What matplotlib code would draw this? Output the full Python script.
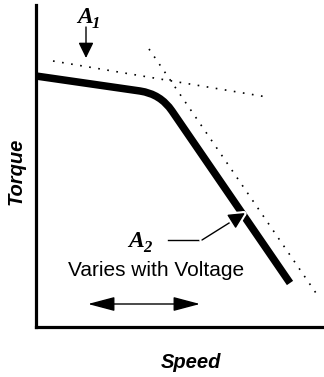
import matplotlib
matplotlib.use("Agg")
import matplotlib.pyplot as plt
from matplotlib.path import Path
from matplotlib.patches import PathPatch
import matplotlib.patheffects as pe

# Torque-speed characteristic (arbitrary units: speed to the right, torque up)
curve_speed = [0, 104, 124.5, 136, 254]
curve_torque = [251, 236, 233, 216, 44]
curve_codes = [Path.MOVETO, Path.LINETO, Path.CURVE3, Path.CURVE3, Path.LINETO]

# Asymptotes A1 (low-speed) and A2 (high-speed)
a1_speed = [17, 231]
a1_torque = [266, 230]
a2_speed = [113, 282]
a2_torque = [278, 31]

fig = plt.figure(figsize=(3.24, 3.77), dpi=100)
ax = fig.add_axes([36 / 324, 50 / 377, 288 / 324, 322 / 377])
ax.set_xlim(0, 288)
ax.set_ylim(0, 322)
ax.set_xticks([])
ax.set_yticks([])
for side in ("top", "right"):
    ax.spines[side].set_visible(False)
for side in ("left", "bottom"):
    ax.spines[side].set_linewidth(2.3)

# dotted asymptotes
dot = (0, (1, 4.5))
ax.plot(a1_speed, a1_torque, color="black", lw=1.2, linestyle=dot)
ax.plot(a2_speed, a2_torque, color="black", lw=1.2, linestyle=dot)

# characteristic curve with rounded knee
path = Path(list(zip(curve_speed, curve_torque)), curve_codes)
ax.add_patch(PathPatch(path, facecolor="none", edgecolor="black", lw=5.4,
                       capstyle="butt", joinstyle="round"))

serif = dict(family="Liberation Serif", weight="bold", style="italic")

# A1 label and arrow
ax.text(49, 304, "A", fontsize=17, ha="center", va="baseline", **serif)
ax.text(60, 299, "1", fontsize=12, ha="center", va="baseline", **serif)
ax.annotate("", xy=(50, 269), xytext=(50, 300),
            arrowprops=dict(arrowstyle="-|>,head_length=0.47,head_width=0.23",
                            mutation_scale=20, lw=1.0, color="black",
                            shrinkA=0, shrinkB=0))

# A2 label and leader arrow
ax.text(100, 80, "A", fontsize=17, ha="center", va="baseline", **serif)
ax.text(111, 75, "2", fontsize=12, ha="center", va="baseline", **serif)
ax.plot([132, 166], [87, 87], color="black", lw=1.0)
ax.annotate("", xy=(209, 114), xytext=(166, 87),
            arrowprops=dict(arrowstyle="-|>,head_length=0.5,head_width=0.25",
                            mutation_scale=20, lw=1.0, color="black",
                            shrinkA=0, shrinkB=0,
                            path_effects=[pe.withStroke(linewidth=4, foreground="white")]))

# voltage dependence annotation
ax.text(120, 56, "Varies with Voltage", fontsize=15, ha="center", va="center",
        family="Liberation Sans")
ax.annotate("", xy=(52, 23), xytext=(164, 23),
            arrowprops=dict(arrowstyle="<|-|>,head_length=0.83,head_width=0.22",
                            mutation_scale=20, lw=1.0, color="black",
                            shrinkA=0, shrinkB=0))

bold_sans = dict(family="Liberation Sans", weight="bold", style="italic", fontsize=14.5)
fig.text(16 / 324, 1 - 171 / 377, "Torque", rotation=90, ha="center", va="center", **bold_sans)
fig.text(191 / 324, 1 - 362 / 377, "Speed", ha="center", va="center", **bold_sans)

fig.savefig("out.png", dpi=100)
